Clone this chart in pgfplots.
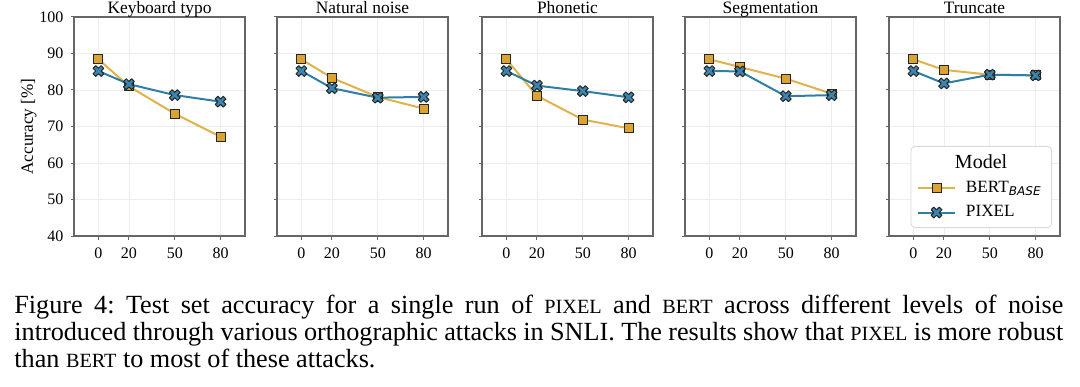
\documentclass[border=0pt]{standalone}
\usepackage{pgfplots}
\pgfplotsset{compat=1.18}
\usepackage{fontspec}
\setmainfont{Liberation Serif}
\newfontfamily\dejavu{DejaVu Sans}
\definecolor{bertfill}{HTML}{DBA332}
\definecolor{bertline}{HTML}{E2B24A}
\definecolor{pixfill}{HTML}{3A86B0}
\definecolor{pixline}{HTML}{2F7EA6}
\newcommand\fsc[1]{{\fontsize{10.1bp}{10.1bp}\selectfont #1}}
\pgfdeclareplotmark{Xf}{%
\pgfpathmoveto{\pgfpoint{0.5\pgfplotmarksize}{-\pgfplotmarksize}}%
\pgfpathlineto{\pgfpoint{\pgfplotmarksize}{-0.5\pgfplotmarksize}}%
\pgfpathlineto{\pgfpoint{0.5\pgfplotmarksize}{0pt}}%
\pgfpathlineto{\pgfpoint{\pgfplotmarksize}{0.5\pgfplotmarksize}}%
\pgfpathlineto{\pgfpoint{0.5\pgfplotmarksize}{\pgfplotmarksize}}%
\pgfpathlineto{\pgfpoint{0pt}{0.5\pgfplotmarksize}}%
\pgfpathlineto{\pgfpoint{-0.5\pgfplotmarksize}{\pgfplotmarksize}}%
\pgfpathlineto{\pgfpoint{-\pgfplotmarksize}{0.5\pgfplotmarksize}}%
\pgfpathlineto{\pgfpoint{-0.5\pgfplotmarksize}{0pt}}%
\pgfpathlineto{\pgfpoint{-\pgfplotmarksize}{-0.5\pgfplotmarksize}}%
\pgfpathlineto{\pgfpoint{-0.5\pgfplotmarksize}{-\pgfplotmarksize}}%
\pgfpathlineto{\pgfpoint{0pt}{-0.5\pgfplotmarksize}}%
\pgfpathclose
\pgfusepathqfillstroke}
\pgfplotsset{
  panel/.style={
    scale only axis, width=85.5bp, height=109.5bp, anchor=south west,
    xmin=-16, xmax=96, ymin=40, ymax=100,
    xtick={0,20,50,80}, ytick={40,50,...,100},
    tick align=outside, xtick pos=left, ytick pos=left,
    major tick length=1.75bp,
    every tick/.style={black!60, line width=0.5bp},
    axis line style={black!60, line width=0.6bp},
    grid=major, major grid style={black!7, line width=0.4bp},
    tick label style={font=\fontsize{8bp}{9bp}\selectfont},
    xticklabel style={yshift=-0.6bp},
    /pgf/number format/assume math mode=true,
    every axis title shift=0pt,
    title style={font=\fontsize{8.7bp}{9bp}\selectfont, at={(0.5,1)}, anchor=base, yshift=1.5bp},
    label style={font=\fontsize{8.6bp}{9bp}\selectfont},
    legend image code/.code={\draw[mark repeat=2,mark phase=2] plot coordinates {(0bp,0bp)(9.25bp,0bp)(18.5bp,0bp)};},
  },
  bert/.style={color=bertline, line width=1bp, mark=square*, mark size=2.25bp,
    mark options={fill=bertfill, draw=black!85, line width=0.5bp, solid}},
  pix/.style={color=pixline, line width=1bp, mark=Xf, mark size=2.7bp,
    mark options={fill=pixfill, draw=black!85, line width=0.5bp, line join=round, solid}},
}
\begin{document}
\begin{tikzpicture}[x=1bp,y=1bp]
\useasboundingbox (0,0) rectangle (540,193);
\begin{axis}[panel, at={(37bp,75bp)}, title={Keyboard typo}, ylabel={Accuracy [\%]},
  ylabel style={at={(axis description cs:-0.265,0.5)}, anchor=center}]
\addplot[bert] coordinates {(0,88.4)(20,81.0)(50,73.5)(80,67.2)};
\addplot[pix] coordinates {(0,85.2)(20,81.6)(50,78.6)(80,76.8)};
\end{axis}
\begin{axis}[panel, at={(138.5bp,75bp)}, title={Natural noise}, yticklabels={}]
\addplot[bert] coordinates {(0,88.4)(20,83.3)(50,78.1)(80,74.9)};
\addplot[pix] coordinates {(0,85.2)(20,80.5)(50,77.9)(80,78.1)};
\end{axis}
\begin{axis}[panel, at={(241bp,75bp)}, title={Phonetic}, yticklabels={}]
\addplot[bert] coordinates {(0,88.4)(20,78.4)(50,71.9)(80,69.5)};
\addplot[pix] coordinates {(0,85.2)(20,81.2)(50,79.7)(80,78.0)};
\end{axis}
\begin{axis}[panel, at={(342.5bp,75bp)}, title={Segmentation}, yticklabels={}]
\addplot[bert] coordinates {(0,88.4)(20,86.3)(50,83.1)(80,79.0)};
\addplot[pix] coordinates {(0,85.2)(20,85.1)(50,78.3)(80,78.6)};
\end{axis}
\begin{axis}[panel, at={(444.5bp,75bp)}, title={Truncate}, yticklabels={},
  legend style={at={(1,0)}, anchor=south east, xshift=-4bp, yshift=4bp,
    draw=black!15, rounded corners=2bp, fill=white, row sep=1bp,
    /tikz/every odd column/.append style={column sep=3bp},
    font=\fontsize{8.6bp}{9bp}\selectfont, legend cell align=left}]
\addlegendimage{empty legend}
\addplot[bert] coordinates {(0,88.4)(20,85.5)(50,84.2)(80,84.0)};
\addplot[pix] coordinates {(0,85.2)(20,81.8)(50,84.2)(80,84.0)};
\legend{{\hspace{-5.5bp}\fontsize{10bp}{10bp}\selectfont Model},{BERT\textsubscript{\dejavu\itshape BASE}},{PIXEL}}
\end{axis}
\node[anchor=base west, inner sep=0pt, text width=524.5bp, align=justify,
  font=\fontsize{13.1bp}{13.7bp}\selectfont] at (7,36.5) {Figure 4:\ Test set accuracy for a single run of \fsc{PIXEL} and \fsc{BERT} across different levels of noise\linebreak introduced through various orthographic attacks in SNLI. The results show that \fsc{PIXEL} is more robust\linebreak than \fsc{BERT} to most of these attacks.};
\end{tikzpicture}
\end{document}
